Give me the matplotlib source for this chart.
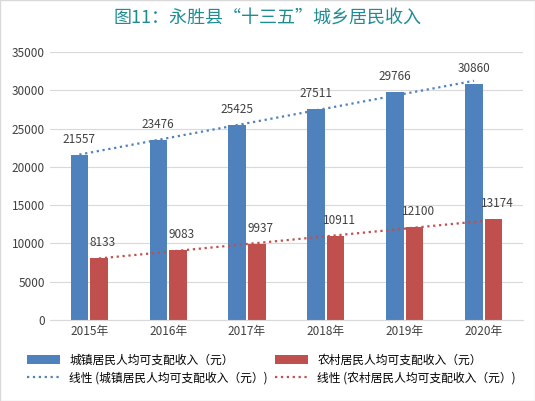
import matplotlib.pyplot as plt
import numpy as np

plt.rcParams['font.family'] = ['Noto Sans CJK SC', 'DejaVu Sans']

years = ['2015年', '2016年', '2017年', '2018年', '2019年', '2020年']
urban = [21557, 23476, 25425, 27511, 29766, 30860]
rural = [8133, 9083, 9937, 10911, 12100, 13174]

blue = '#4F81BD'
red = '#C0504D'

fig = plt.figure(figsize=(5.35, 4.01), dpi=100)
ax = fig.add_axes([0.093, 0.202, 0.885, 0.668])
x = np.arange(len(years))
w = 0.22
ax.bar(x - 0.125, urban, w, color=blue, label='城镇居民人均可支配收入（元）')
ax.bar(x + 0.125, rural, w, color=red, label='农村居民人均可支配收入（元）')

# linear trendlines
for vals, off, col, lab in [(urban, -0.125, blue, '线性 (城镇居民人均可支配收入（元）)'),
                            (rural, 0.125, red, '线性 (农村居民人均可支配收入（元）)')]:
    k, b = np.polyfit(x, vals, 1)
    xs = np.array([x[0] + off, x[-1] + off])
    ax.plot(xs, k * (xs - off) + b, linestyle=':', color=col, lw=1.6, label=lab)

for i in x:
    ax.text(i - 0.125, urban[i] + 1200, str(urban[i]), ha='center', va='bottom', fontsize=8.5, color='#404040')
    ax.text(i + 0.125 + 0.05, rural[i] + 1200, str(rural[i]), ha='center', va='bottom', fontsize=8.5, color='#404040')

ax.set_ylim(0, 35000)
ax.set_yticks(range(0, 35001, 5000))
ax.set_xlim(-0.5, 5.5)
ax.set_xticks(x)
ax.set_xticklabels(years)
ax.tick_params(labelsize=8.5, colors='#404040', length=0)
ax.grid(axis='y', color='#D9D9D9', lw=0.8)
ax.set_axisbelow(True)
for s in ['top', 'right', 'left']:
    ax.spines[s].set_visible(False)
ax.spines['bottom'].set_color('#D9D9D9')

fig.suptitle('图11：永胜县“十三五”城乡居民收入', x=0.5, y=0.975, fontsize=13, color='#1F8C94')
h, l = ax.get_legend_handles_labels()
# handles: [line_u, line_r, bar_u, bar_r]; column-first fill
fig.legend([h[2], h[0], h[3], h[1]], [l[2], l[0], l[3], l[1]], loc='lower left',
           bbox_to_anchor=(0.03, 0.015), ncol=2, frameon=False, fontsize=8.5,
           handlelength=2.8, columnspacing=0.6, labelspacing=0.4)
fig.patches.append(plt.Rectangle((0, 0), 1, 1, transform=fig.transFigure, fill=False, ec='#D9D9D9', lw=1))
fig.savefig('out.png', dpi=100)
